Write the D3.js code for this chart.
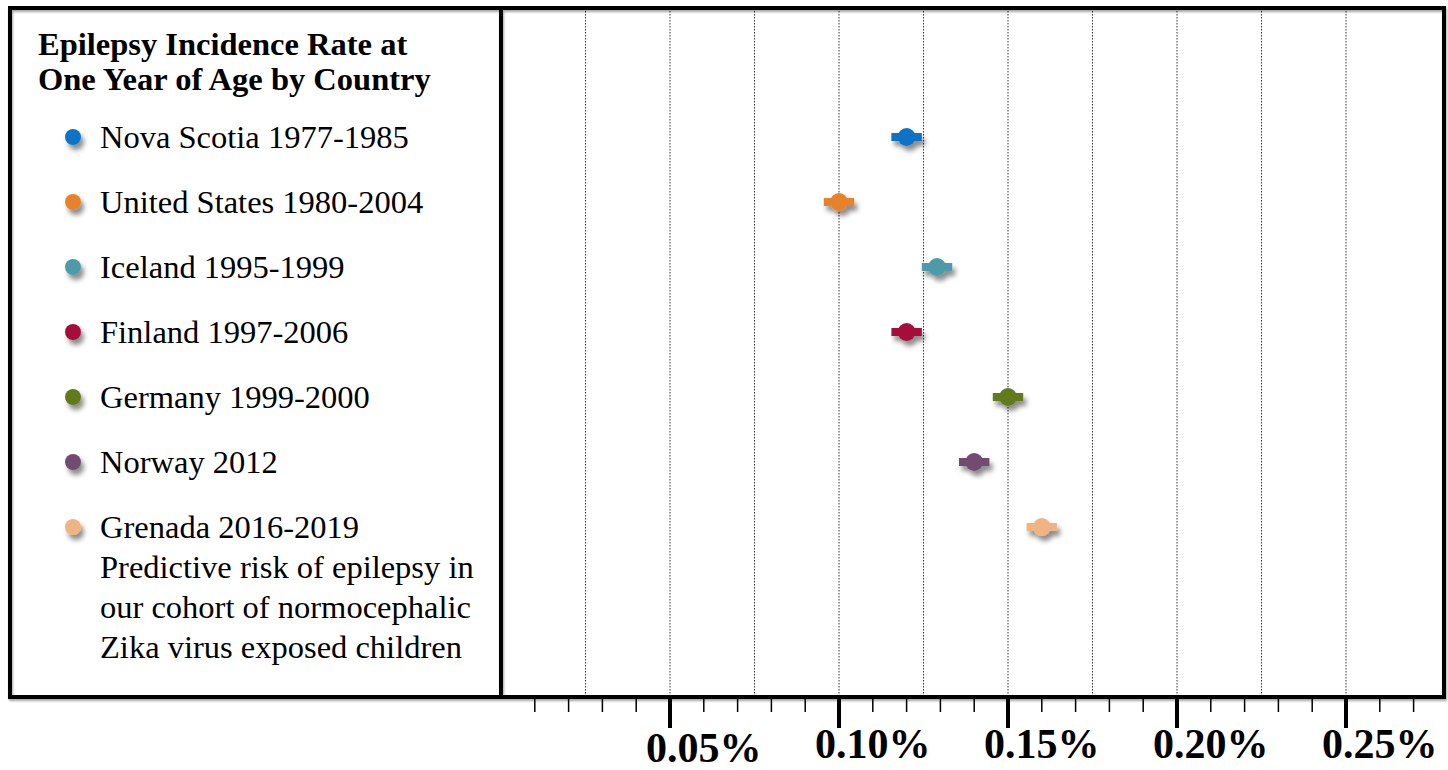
<!doctype html>
<html>
<head>
<meta charset="utf-8">
<title>Epilepsy Incidence Rate at One Year of Age by Country</title>
<script src="https://d3js.org/d3.v7.min.js"></script>
<style>
  body { margin: 0; background: #fff; }
  svg { display: block; font-family: "Liberation Serif", "Times New Roman", serif; }
</style>
</head>
<body>
<svg class="chart"></svg>
<script>
    // data (incidence in %)
    var countries = ["Nova Scotia 1977-1985", "United States 1980-2004", "Iceland 1995-1999",
                     "Finland 1997-2006", "Germany 1999-2000", "Norway 2012", "Grenada 2016-2019"];
    var rates = [0.120, 0.100, 0.129, 0.120, 0.150, 0.140, 0.160];
    var errLow = [0.0045, 0.0045, 0.0045, 0.0045, 0.0045, 0.0045, 0.0045];
    var errHigh = [0.0045, 0.0045, 0.0045, 0.0045, 0.0045, 0.0045, 0.0045];
    var colors = ["#0a73c6", "#e8822b", "#4e9aa9", "#a50d3d", "#617a1c", "#724b70", "#f0b482"];
    var titleLines = ["Epilepsy Incidence Rate at", "One Year of Age by Country"];
    var noteLines = ["Predictive risk of epilepsy in", "our cohort of normocephalic", "Zika virus exposed children"];
    var majorTicks = [0.05, 0.10, 0.15, 0.20, 0.25];
    var tickLabels = ["0.05%", "0.10%", "0.15%", "0.20%", "0.25%"];
    var minorTicks = d3.range(1, 28).map(d => d / 100);
    var gridLines = d3.range(1, 11).map(d => d * 0.025);

    var width = 1448, height = 770;
    var boxLeft = 10, boxTop = 8, boxRight = 1444, axisY = 697, divider = 501;

    var svg = d3.select(".chart").attr("width", width).attr("height", height);

    var defs = svg.append("defs");
    var shadow = defs.append("filter").attr("id", "shadow")
        .attr("x", "-50%").attr("y", "-50%").attr("width", "200%").attr("height", "250%");
    shadow.append("feDropShadow").attr("dx", 3).attr("dy", 5).attr("stdDeviation", 2.5)
        .attr("flood-color", "#000").attr("flood-opacity", 0.45);
    var boxShadow = defs.append("filter").attr("id", "boxshadow");
    boxShadow.append("feDropShadow").attr("dx", 1).attr("dy", 2).attr("stdDeviation", 1)
        .attr("flood-color", "#000").attr("flood-opacity", 0.35);

    var x = d3.scaleLinear().domain([0, 0.05]).range([divider, 670]);
    var y = d3.scaleLinear().domain([0, countries.length - 1]).range([137, 527]);

    // gridlines
    svg.append("g").selectAll("line").data(gridLines).join("line")
        .attr("x1", d => x(d)).attr("x2", d => x(d))
        .attr("y1", boxTop).attr("y2", axisY)
        .attr("stroke", "#333").attr("stroke-width", 1)
        .attr("stroke-dasharray", "1.5,1.5");

    // frame
    var frame = svg.append("g").attr("filter", "url(#boxshadow)");
    frame.append("rect")
        .attr("x", boxLeft).attr("y", boxTop)
        .attr("width", boxRight - boxLeft).attr("height", axisY - boxTop)
        .attr("fill", "none").attr("stroke", "#000").attr("stroke-width", 4);
    frame.append("line")
        .attr("x1", divider).attr("x2", divider)
        .attr("y1", boxTop).attr("y2", axisY)
        .attr("stroke", "#000").attr("stroke-width", 4);

    // axis ticks below the frame
    var axis = svg.append("g");
    axis.selectAll(".minor").data(minorTicks.filter(d => !majorTicks.some(m => Math.abs(m - d) < 1e-9)))
        .join("line").attr("class", "minor")
        .attr("x1", d => x(d)).attr("x2", d => x(d))
        .attr("y1", axisY).attr("y2", axisY + 15)
        .attr("stroke", "#000").attr("stroke-width", 1.5);
    axis.selectAll(".major").data(majorTicks).join("line").attr("class", "major")
        .attr("x1", d => x(d)).attr("x2", d => x(d))
        .attr("y1", axisY).attr("y2", axisY + 31)
        .attr("stroke", "#000").attr("stroke-width", 4);
    axis.selectAll("text").data(majorTicks).join("text")
        .attr("x", d => x(d) - 24)
        .attr("y", (d, i) => i === 0 ? 762 : 758)
        .attr("font-size", 42).attr("font-weight", "bold")
        .text((d, i) => tickLabels[i]);

    // markers with error bars
    var marks = svg.append("g").selectAll("g").data(rates).join("g")
        .attr("filter", "url(#shadow)");
    marks.append("rect")
        .attr("x", (d, i) => x(d - errLow[i]))
        .attr("y", (d, i) => y(i) - 4)
        .attr("width", (d, i) => x(d + errHigh[i]) - x(d - errLow[i]))
        .attr("height", 8)
        .attr("fill", (d, i) => colors[i]);
    marks.append("circle")
        .attr("cx", d => x(d)).attr("cy", (d, i) => y(i)).attr("r", 9)
        .attr("fill", (d, i) => colors[i]);

    // legend panel
    var legend = svg.append("g");
    legend.selectAll(".title").data(titleLines).join("text").attr("class", "title")
        .attr("x", 38).attr("y", (d, i) => 55 + i * 35)
        .attr("font-size", 32.5).attr("font-weight", "bold")
        .text(d => d);
    legend.selectAll("circle").data(countries).join("circle")
        .attr("cx", 73).attr("cy", (d, i) => y(i)).attr("r", 8)
        .attr("fill", (d, i) => colors[i])
        .attr("filter", "url(#shadow)");
    legend.selectAll(".entry").data(countries).join("text").attr("class", "entry")
        .attr("x", 100).attr("y", (d, i) => y(i) + 11)
        .attr("font-size", 32.5)
        .text(d => d);
    legend.selectAll(".note").data(noteLines).join("text").attr("class", "note")
        .attr("x", 100).attr("y", (d, i) => y(countries.length - 1) + 11 + (i + 1) * 40)
        .attr("font-size", 32.5)
        .text(d => d);
</script>
</body>
</html>
